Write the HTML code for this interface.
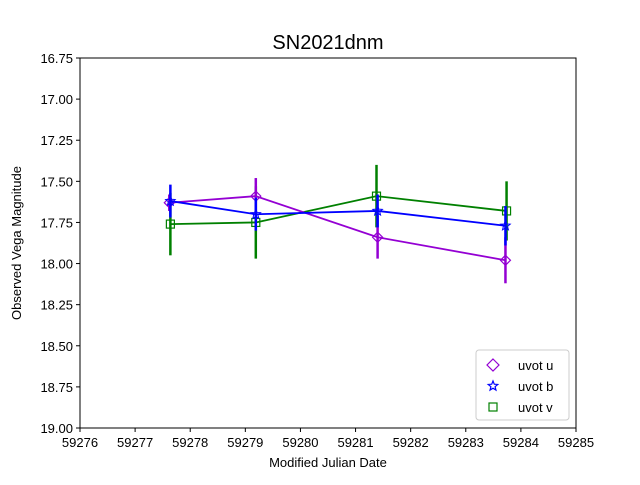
<!DOCTYPE html>
<html><head><meta charset="utf-8"><style>
body{margin:0;background:#fff;font-family:"Liberation Sans","DejaVu Sans",sans-serif}
</style></head><body>
<svg id="chart" width="640" height="480" viewBox="0 0 640 480" xmlns="http://www.w3.org/2000/svg">
<rect x="0" y="0" width="640" height="480" fill="#fff"/>
<text x="328" y="49" font-size="20" text-anchor="middle">SN2021dnm</text>
<g id="axes"></g>
<g id="series"></g>
<rect x="80" y="58" width="496" height="370" fill="none" stroke="#000" stroke-width="1"/>
<text x="328" y="467" font-size="13" text-anchor="middle">Modified Julian Date</text>
<text x="21" y="243" font-size="13" text-anchor="middle" transform="rotate(-90 21 243)">Observed Vega Magnitude</text>
<g>
<rect x="476" y="350" width="93" height="70" rx="3" fill="#fff" stroke="#ccc"/>
<path d="M493,359 L499,365 L493,371 L487,365 Z" fill="none" stroke="#9400d3" stroke-width="1.2"/>
<text x="518" y="370" font-size="13">uvot u</text>
<polygon id="legstar" fill="none" stroke="#0000ff" stroke-width="1.2"/>
<text x="518" y="391" font-size="13">uvot b</text>
<rect x="489" y="403" width="8" height="8" fill="none" stroke="#008000" stroke-width="1.2"/>
<text x="518" y="412" font-size="13">uvot v</text>
</g>
</svg>
<script>
const xTicks=[59276,59277,59278,59279,59280,59281,59282,59283,59284,59285];
const yTicks=["16.75","17.00","17.25","17.50","17.75","18.00","18.25","18.50","18.75","19.00"];
const uDates=[59277.62,59279.19,59281.40,59283.72];
const uMags=[17.63,17.59,17.84,17.98];
const uErr=[0.05,0.11,0.13,0.14];
const bDates=[59277.64,59279.19,59281.40,59283.72];
const bMags=[17.62,17.70,17.68,17.77];
const bErr=[0.10,0.10,0.10,0.12];
const vDates=[59277.64,59279.19,59281.38,59283.74];
const vMags=[17.76,17.75,17.59,17.68];
const vErr=[0.19,0.22,0.19,0.18];
const NS="http://www.w3.org/2000/svg";
const X0=80,X1=576,Y0=58,Y1=428;
const xs=v=>X0+(v-59276)/(59285-59276)*(X1-X0);
const ys=v=>Y0+(v-16.75)/(19-16.75)*(Y1-Y0);
function mk(tag,attrs,parent){const e=document.createElementNS(NS,tag);for(const k in attrs)e.setAttribute(k,attrs[k]);parent.appendChild(e);return e;}
function starPts(x,y){const pts=[];for(let k=0;k<10;k++){const r=k%2?2.2:5,a=-Math.PI/2+k*Math.PI/5;pts.push((x+r*Math.cos(a)).toFixed(2)+','+(y+r*Math.sin(a)).toFixed(2));}return pts.join(' ');}
document.getElementById('legstar').setAttribute('points',starPts(493,386));
const axes=document.getElementById('axes');
xTicks.forEach(t=>{
 const l=mk('line',{x1:xs(t),x2:xs(t),y1:428,y2:432,stroke:'#000'},axes);
 
 
 const tx=mk('text',{x:xs(t),y:447,'font-size':13,'text-anchor':'middle'},axes);tx.textContent=t;
 
 
});
yTicks.forEach(t=>{
 const y=ys(parseFloat(t));
 const l=mk('line',{x1:76,x2:80,y1:y,y2:y,stroke:'#000'},axes);
 
 
 const tx=mk('text',{x:73,y:y+5,'font-size':13,'text-anchor':'end'},axes);tx.textContent=t;
 
 
});
const sg=document.getElementById('series');
function series(name,dates,mags,errs,color,marker){
 const g=mk('g',{},sg);
 
 
 dates.forEach((d,i)=>{
  const e=mk('line',{x1:xs(d),x2:xs(d),y1:ys(mags[i]-errs[i]),y2:ys(mags[i]+errs[i]),stroke:color,'stroke-width':2.5},g);
  
  
 });
 const pl=mk('polyline',{points:dates.map((d,i)=>xs(d)+','+ys(mags[i])).join(' '),fill:'none',stroke:color,'stroke-width':1.8},g);
 
 
 dates.forEach((d,i)=>{
  const x=xs(d),y=ys(mags[i]);let m;
  if(marker==='d')m=mk('path',{d:`M${x},${y-5}L${x+5},${y}L${x},${y+5}L${x-5},${y}Z`,fill:'none',stroke:color,'stroke-width':1.2},g);
  else if(marker==='s')m=mk('rect',{x:x-4,y:y-4,width:8,height:8,fill:'none',stroke:color,'stroke-width':1.2},g);
  else m=mk('polygon',{points:starPts(x,y),fill:'none',stroke:color,'stroke-width':1},g);
  
  
 });
}
series('uvot-v',vDates,vMags,vErr,'#008000','s');
series('uvot-u',uDates,uMags,uErr,'#9400d3','d');
series('uvot-b',bDates,bMags,bErr,'#0000ff','*');
</script>
</body></html>
